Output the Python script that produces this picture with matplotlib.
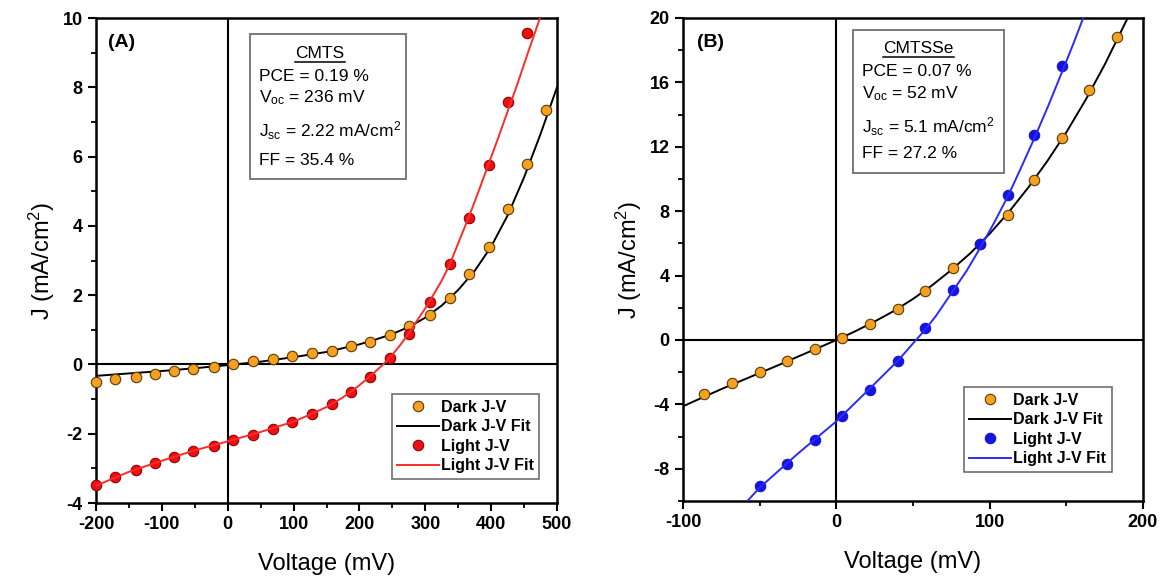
import matplotlib
matplotlib.use("Agg")
import matplotlib.pyplot as plt
from matplotlib.patches import Rectangle
from matplotlib.lines import Line2D

plt.rcParams['font.family'] = ['Liberation Sans', 'DejaVu Sans']
plt.rcParams['mathtext.fontset'] = 'custom'
plt.rcParams['mathtext.rm'] = 'Liberation Sans'
plt.rcParams['mathtext.it'] = 'Liberation Sans'
plt.rcParams['axes.unicode_minus'] = False

# ---------------- Panel A (CMTS) data ----------------
a_dark_v = [-200, -171, -140, -110, -81, -52, -21, 8, 38, 69, 98, 128, 158, 187,
            216, 246, 276, 307, 337, 366, 396, 425, 455, 484]
a_dark_j = [-0.50, -0.43, -0.36, -0.27, -0.19, -0.13, -0.06, 0.01, 0.09, 0.16, 0.23,
            0.32, 0.40, 0.52, 0.66, 0.86, 1.12, 1.44, 1.92, 2.60, 3.40, 4.48, 5.79, 7.33]
a_light_v = [-200, -171, -140, -110, -81, -52, -21, 8, 38, 69, 98, 128, 158, 187,
             216, 246, 276, 307, 337, 366, 396, 425, 455]
a_light_j = [-3.48, -3.24, -3.05, -2.84, -2.67, -2.50, -2.35, -2.19, -2.04, -1.85,
             -1.66, -1.42, -1.15, -0.80, -0.36, 0.19, 0.89, 1.81, 2.90, 4.23, 5.77,
             7.57, 9.57]
a_dfit_v = [-200, -150, -100, -50, 0, 50, 100, 150, 200, 225, 250, 275, 300, 325,
            350, 375, 400, 425, 450, 475, 500]
a_dfit_j = [-0.33, -0.26, -0.19, -0.11, -0.02, 0.08, 0.21, 0.36, 0.58, 0.72, 0.88,
            1.08, 1.35, 1.70, 2.15, 2.70, 3.40, 4.30, 5.40, 6.65, 8.00]
a_lfit_v = [-200, -150, -100, -50, 0, 50, 100, 125, 150, 175, 187, 200, 210, 220,
            228, 236, 250, 262, 275, 287, 300, 312, 325, 337, 350, 366, 381, 396,
            410, 425, 440, 455, 476]
a_lfit_j = [-3.50, -3.10, -2.78, -2.48, -2.22, -1.95, -1.65, -1.45, -1.23, -0.95,
            -0.79, -0.60, -0.44, -0.28, -0.14, 0.00, 0.28, 0.56, 0.90, 1.25, 1.62,
            2.00, 2.42, 2.88, 3.50, 4.25, 5.00, 5.78, 6.50, 7.30, 8.10, 8.95, 10.1]

# ---------------- Panel B (CMTSSe) data ----------------
b_dark_v = [-86, -68, -50, -32, -14, 4, 22, 40, 58, 76, 94, 112, 129, 147, 165, 183]
b_dark_j = [-3.36, -2.68, -2.00, -1.32, -0.58, 0.12, 0.99, 1.94, 3.05, 4.47, 5.95,
            7.78, 9.95, 12.57, 15.50, 18.85]
b_light_v = [-50, -32, -14, 4, 22, 40, 58, 76, 94, 112, 129, 147]
b_light_j = [-9.07, -7.73, -6.24, -4.74, -3.13, -1.32, 0.72, 3.09, 5.94, 9.02,
             12.71, 17.03]
b_dfit_v = [-100, -87.5, -75, -62.5, -50, -37.5, -25, -12.5, 0, 12.5, 25, 37.5, 50,
            62.5, 75, 87.5, 100, 112.5, 125, 137.5, 150, 162.5, 175, 190]
b_dfit_j = [-4.12, -3.58, -3.05, -2.55, -2.05, -1.55, -1.03, -0.52, 0.00, 0.55, 1.15,
            1.80, 2.55, 3.40, 4.35, 5.40, 6.60, 7.95, 9.45, 11.10, 12.90, 14.90,
            17.10, 20.0]
b_lfit_v = [-58, -50, -25, 0, 22, 40, 52, 58, 65, 75, 85, 94, 103, 112, 120, 129,
            138, 147, 155, 161]
b_lfit_j = [-10.0, -9.17, -7.05, -5.05, -3.00, -1.30, 0.00, 0.65, 1.50, 2.90, 4.30,
            5.75, 7.30, 8.95, 10.60, 12.50, 14.50, 16.60, 18.50, 20.0]

a_xticks = [-200, -100, 0, 100, 200, 300, 400, 500]
a_yticks = [-4, -2, 0, 2, 4, 6, 8, 10]
b_xticks = [-100, 0, 100, 200]
b_yticks = [-8, -4, 0, 4, 8, 12, 16, 20]

a_info = ["CMTS", "PCE = 0.19 %", r"V$_{\mathrm{oc}}$ = 236 mV",
          r"J$_{\mathrm{sc}}$ = 2.22 mA/cm$^{2}$", "FF = 35.4 %"]
b_info = ["CMTSSe", "PCE = 0.07 %", r"V$_{\mathrm{oc}}$ = 52 mV",
          r"J$_{\mathrm{sc}}$ = 5.1 mA/cm$^{2}$", "FF = 27.2 %"]

labels = ["Dark J-V", "Dark J-V Fit", "Light J-V", "Light J-V Fit"]

ORANGE = '#f5a020'
ORANGE_EDGE = '#5a3a00'
RED = '#ee1010'
RED_EDGE = '#900000'
BLUE = '#1414dd'
BLUE_LINE = '#2a2aff'
RED_LINE = '#ff2a2a'

fig = plt.figure(figsize=(11.62, 5.83), dpi=100)
W, H = 1162, 583
axA = fig.add_axes([96 / W, 1 - 503 / H, (557 - 96) / W, (503 - 18) / H])
axB = fig.add_axes([683 / W, 1 - 501 / H, (1143 - 683) / W, (501 - 18) / H])


def style(ax, xlim, ylim, xt, yt, xminor, yminor):
    ax.set_xlim(*xlim)
    ax.set_ylim(*ylim)
    ax.set_xticks(xt)
    ax.set_yticks(yt)
    ax.set_xticks(xminor, minor=True)
    ax.set_yticks(yminor, minor=True)
    ax.tick_params(which='major', direction='out', length=6, width=1.5,
                   labelsize=13, top=False, right=False)
    ax.tick_params(which='minor', direction='out', length=3.5, width=1.3,
                   top=False, right=False)
    for lab in ax.get_xticklabels() + ax.get_yticklabels():
        lab.set_fontweight('bold')
    for s in ax.spines.values():
        s.set_linewidth(1.8)
    ax.axhline(0, color='black', lw=1.5, zorder=1)
    ax.axvline(0, color='black', lw=1.5, zorder=1)
    ax.set_xlabel("Voltage (mV)", fontsize=17, labelpad=14)
    ax.set_ylabel(r"J (mA/cm$^{2}$)", fontsize=17, labelpad=4)


def info_box(ax, lines, box, xleft, xcenter, ys):
    x0, x1, y0, y1 = box
    ax.add_patch(Rectangle((x0, y0), x1 - x0, y1 - y0, transform=ax.transAxes,
                           fill=False, edgecolor='#707070', lw=1.3, zorder=5))
    t = ax.text(xcenter, ys[0], lines[0], transform=ax.transAxes, ha='center',
                va='center', fontsize=12.5, zorder=6)
    for s, y in zip(lines[1:], ys[1:]):
        ax.text(xleft, y, s, transform=ax.transAxes, ha='left', va='center',
                fontsize=12.5, zorder=6)
    return t


# Panel A
axA.plot(a_dfit_v, a_dfit_j, color='black', lw=1.4, zorder=3)
axA.plot(a_dark_v, a_dark_j, 'o', ms=7.5, mfc=ORANGE, mec=ORANGE_EDGE, mew=0.8,
         zorder=4, clip_on=False)
axA.plot(a_light_v, a_light_j, 'o', ms=7.5, mfc=RED, mec=RED_EDGE, mew=0.8,
         zorder=4, clip_on=False)
axA.plot(a_lfit_v, a_lfit_j, color=RED_LINE, lw=1.4, zorder=5)
style(axA, (-200, 500), (-4, 10), a_xticks, a_yticks,
      [-150, -50, 50, 150, 250, 350, 450], [-3, -1, 1, 3, 5, 7, 9])
axA.text(0.026, 0.95, "(A)", transform=axA.transAxes, fontsize=14,
         fontweight='bold', ha='left', va='center')
tA = info_box(axA, a_info, (0.333, 0.672, 0.668, 0.966), 0.354, 0.486,
              [0.926, 0.879, 0.835, 0.768, 0.706])

# Panel B
axB.plot(b_dfit_v, b_dfit_j, color='black', lw=1.4, zorder=3)
axB.plot(b_dark_v, b_dark_j, 'o', ms=7.5, mfc=ORANGE, mec=ORANGE_EDGE, mew=0.8,
         zorder=4)
axB.plot(b_light_v, b_light_j, 'o', ms=7.5, mfc=BLUE, mec=BLUE, mew=0.8, zorder=4)
axB.plot(b_lfit_v, b_lfit_j, color=BLUE_LINE, lw=1.4, zorder=5)
style(axB, (-100, 200), (-10, 20), b_xticks, b_yticks,
      [-50, 50, 150], [-10, -6, -2, 2, 6, 10, 14, 18])
axB.text(0.03, 0.95, "(B)", transform=axB.transAxes, fontsize=14,
         fontweight='bold', ha='left', va='center')
tB = info_box(axB, b_info, (0.369, 0.698, 0.679, 0.975), 0.389, 0.512,
              [0.936, 0.890, 0.844, 0.775, 0.719])


def legend(ax, dark_c, dark_e, light_c, light_e, light_line, anchor):
    handles = [
        Line2D([], [], ls='none', marker='o', ms=7.5, mfc=dark_c, mec=dark_e, mew=0.8),
        Line2D([], [], color='black', lw=1.4),
        Line2D([], [], ls='none', marker='o', ms=7.5, mfc=light_c, mec=light_e, mew=0.8),
        Line2D([], [], color=light_line, lw=1.4),
    ]
    leg = ax.legend(handles, labels, loc='lower right', bbox_to_anchor=anchor,
                    bbox_transform=ax.transAxes, fancybox=False, framealpha=1,
                    edgecolor='#707070', prop={'weight': 'bold', 'size': 11.5},
                    handlelength=2.6, handletextpad=0.15, labelspacing=0.28,
                    borderpad=0.35, borderaxespad=0)
    leg.get_frame().set_linewidth(1.2)
    leg.set_zorder(10)


legend(axA, ORANGE, ORANGE_EDGE, RED, RED_EDGE, RED_LINE, (0.962, 0.05))
legend(axB, ORANGE, ORANGE_EDGE, BLUE, BLUE, BLUE_LINE, (0.932, 0.06))

# underline the material names
fig.canvas.draw()
r = fig.canvas.get_renderer()
for t in (tA, tB):
    bb = t.get_window_extent(renderer=r)
    y = bb.y0 - 1
    fig.add_artist(Line2D([bb.x0 / W, bb.x1 / W], [y / H, y / H],
                          transform=fig.transFigure, color='black', lw=1.1))

fig.savefig("out.png", dpi=100)
